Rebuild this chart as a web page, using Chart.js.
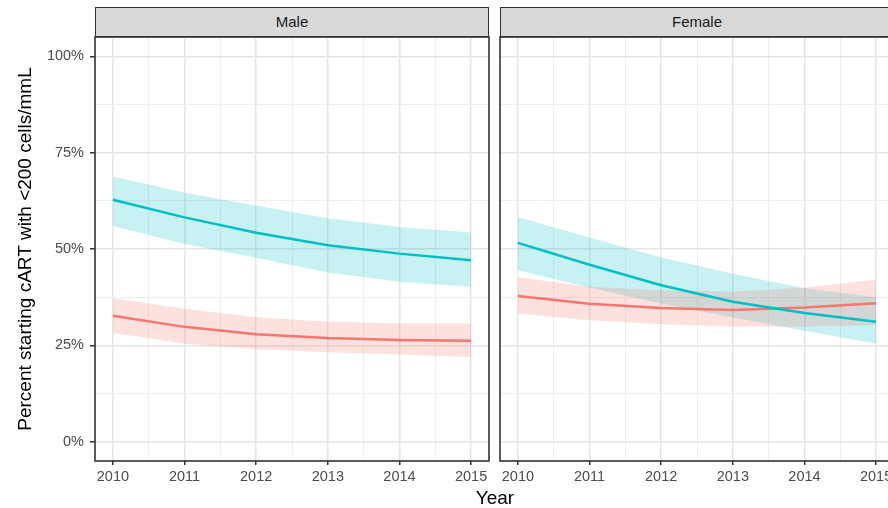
<!DOCTYPE html>
<html lang="en">

<head>
    <meta charset="UTF-8">
    <style>
        html,
        body {
            margin: 0;
            padding: 0;
            width: 888px;
            height: 508px;
            overflow: hidden;
            background: #ffffff;
            font-family: "Liberation Sans", Arial, sans-serif;
        }

        .panel {
            position: absolute;
            top: 0;
            height: 508px;
        }

        #malePanel {
            left: 0;
            width: 492px;
        }

        #femalePanel {
            left: 489px;
            width: 430px;
        }

        .strip {
            position: absolute;
            top: 7px;
            height: 30px;
            width: 394px;
            box-sizing: border-box;
            background: #d9d9d9;
            border: 1.5px solid #333333;
            color: #1a1a1a;
            font-size: 15px;
            line-height: 27px;
            text-align: center;
        }

        .xtitle {
            position: absolute;
            left: 395px;
            width: 200px;
            top: 487px;
            font-size: 19px;
            line-height: 22px;
            text-align: center;
            color: #000000;
        }
    </style>
</head>

<body>
    <div class="panel" id="malePanel"><canvas id="maleChart"></canvas></div>
    <div class="panel" id="femalePanel"><canvas id="femaleChart"></canvas></div>

    <div class="strip" style="left: 95px;">Male</div>
    <div class="strip" style="left: 500px;">Female</div>
    <div class="xtitle">Year</div>

    <script src="https://cdn.jsdelivr.net/npm/chart.js"></script>
    <script>
        const years = [2010, 2011, 2012, 2013, 2014, 2015];
        const xTicks = [2010, 2010.5, 2011, 2011.5, 2012, 2012.5, 2013, 2013.5, 2014, 2014.5, 2015];
        const yTicks = [0, 12.5, 25, 37.5, 50, 62.5, 75, 87.5, 100];
        const yTitle = 'Percent starting cART with <200 cells/mmL';

        // Male panel (percent)
        const maleTeal = [62.8, 58.2, 54.2, 51.0, 48.8, 47.1];
        const maleTealLo = [56.0, 51.3, 47.7, 43.9, 41.5, 40.2];
        const maleTealHi = [68.8, 64.6, 61.3, 58.0, 55.7, 54.3];
        const maleRed = [32.7, 29.8, 27.9, 26.9, 26.4, 26.2];
        const maleRedLo = [28.2, 25.5, 24.0, 23.2, 22.6, 22.0];
        const maleRedHi = [37.2, 34.5, 32.3, 31.2, 30.7, 30.7];

        // Female panel (percent)
        const femTeal = [51.6, 45.9, 40.6, 36.3, 33.4, 31.1];
        const femTealLo = [44.5, 40.0, 35.8, 32.2, 28.8, 25.5];
        const femTealHi = [58.3, 53.0, 47.8, 43.6, 39.8, 37.5];
        const femRed = [37.8, 35.8, 34.7, 34.2, 34.8, 35.9];
        const femRedLo = [33.3, 31.5, 30.5, 29.9, 29.8, 30.3];
        const femRedHi = [42.7, 40.2, 39.3, 38.9, 40.0, 42.0];

        const TEAL = '#00BFC4';
        const RED = '#F8766D';
        const FONT = 'Liberation Sans';

        const pts = arr => arr.map((v, i) => ({ x: years[i], y: v }));

        const panelBorder = {
            id: 'panelBorder',
            afterDraw(chart) {
                const { ctx, chartArea: a } = chart;
                ctx.save();
                ctx.strokeStyle = '#333333';
                ctx.lineWidth = 1.6;
                ctx.strokeRect(a.left, a.top, a.right - a.left, a.bottom - a.top);
                ctx.restore();
            }
        };

        const isMajorX = v => Number.isInteger(v);
        const isMajorY = v => v % 25 === 0;

        function band(data, fill, color) {
            return {
                data: pts(data),
                fill: fill,
                backgroundColor: color,
                borderColor: 'rgba(0,0,0,0)',
                borderWidth: 0,
                pointRadius: 0,
                tension: 0,
                order: 5
            };
        }

        function line(data, color, order) {
            return {
                data: pts(data),
                fill: false,
                borderColor: color,
                borderWidth: 2.5,
                pointRadius: 0,
                tension: 0,
                order: order
            };
        }

        function buildPanel(id, teal, tealLo, tealHi, red, redLo, redHi, isLeft) {
            const ctx = document.getElementById(id).getContext('2d');
            return new Chart(ctx, {
                type: 'line',
                data: {
                    datasets: [
                        band(redHi, '+1', 'rgba(248,118,109,0.22)'),
                        band(redLo, false, 'rgba(0,0,0,0)'),
                        band(tealHi, '+1', 'rgba(0,191,196,0.22)'),
                        band(tealLo, false, 'rgba(0,0,0,0)'),
                        line(red, RED, 1),
                        line(teal, TEAL, 0)
                    ]
                },
                options: {
                    responsive: true,
                    maintainAspectRatio: false,
                    animation: false,
                    events: [],
                    layout: {
                        padding: { top: 37, right: isLeft ? 3 : 25, bottom: 0, left: 0 }
                    },
                    scales: {
                        x: {
                            type: 'linear',
                            min: 2009.75,
                            max: 2015.25,
                            afterBuildTicks: s => { s.ticks = xTicks.map(v => ({ value: v })); },
                            afterFit: s => { s.height = 47; },
                            border: { display: false },
                            grid: {
                                color: c => isMajorX(c.tick.value) ? '#e5e5e5' : '#eeeeee',
                                lineWidth: c => isMajorX(c.tick.value) ? 1.5 : 1,
                                tickLength: 4,
                                tickColor: c => isMajorX(c.tick.value) ? '#333333' : 'rgba(0,0,0,0)',
                                tickWidth: 1.5
                            },
                            ticks: {
                                autoSkip: false,
                                maxRotation: 0,
                                minRotation: 0,
                                padding: 3,
                                color: '#4d4d4d',
                                font: { family: FONT, size: 14.5 },
                                callback: v => isMajorX(v) ? String(v) : ''
                            }
                        },
                        y: {
                            min: -5,
                            max: 105,
                            afterBuildTicks: s => { s.ticks = yTicks.map(v => ({ value: v })); },
                            afterFit: s => { s.width = isLeft ? 95 : 11; },
                            border: { display: false },
                            title: {
                                display: isLeft,
                                text: yTitle,
                                color: '#000000',
                                font: { family: FONT, size: 19 },
                                padding: { top: 14, bottom: 0 }
                            },
                            grid: {
                                color: c => isMajorY(c.tick.value) ? '#e5e5e5' : '#eeeeee',
                                lineWidth: c => isMajorY(c.tick.value) ? 1.5 : 1,
                                drawTicks: isLeft,
                                tickLength: 5,
                                tickColor: c => isMajorY(c.tick.value) ? '#333333' : 'rgba(0,0,0,0)',
                                tickWidth: 1.5
                            },
                            ticks: {
                                display: isLeft,
                                padding: 6,
                                color: '#4d4d4d',
                                font: { family: FONT, size: 14.5 },
                                callback: v => isMajorY(v) ? v + '%' : ''
                            }
                        }
                    },
                    plugins: {
                        legend: { display: false },
                        tooltip: { enabled: false }
                    }
                },
                plugins: [panelBorder]
            });
        }

        buildPanel('maleChart', maleTeal, maleTealLo, maleTealHi, maleRed, maleRedLo, maleRedHi, true);
        buildPanel('femaleChart', femTeal, femTealLo, femTealHi, femRed, femRedLo, femRedHi, false);
    </script>
</body>

</html>
